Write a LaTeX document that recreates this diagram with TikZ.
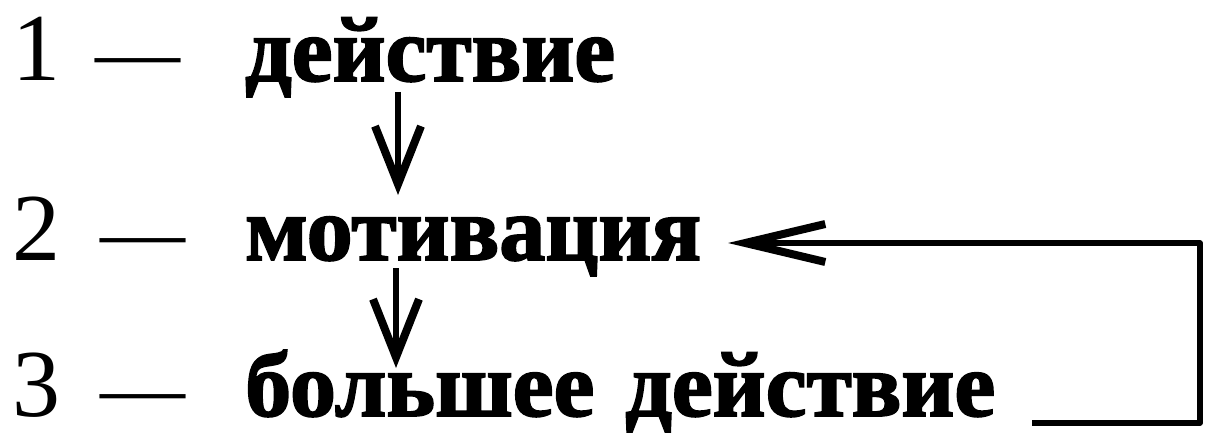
\documentclass[tikz,border=0pt]{standalone}
\usepackage{fontspec}
\setmainfont[BoldFeatures={FakeBold=2}]{Liberation Serif}
\usetikzlibrary{arrows.meta}
\begin{document}
\begin{tikzpicture}[x=1pt,y=-1pt,
  word/.style={font=\fontsize{92}{100}\selectfont\bfseries, inner sep=0pt, anchor=base west},
  num/.style={font=\fontsize{96}{100}\selectfont, inner sep=0pt, anchor=base west},
  dashtext/.style={font=\fontsize{85}{100}\selectfont, inner sep=0pt, anchor=base west},
  arr/.style={line width=6pt, -{Straight Barb[length=58pt,width=46pt,line width=8pt]}},
  fb/.style={line width=5.5pt, line join=round, -{Straight Barb[length=80pt,width=38pt,line width=8pt]}}]
\useasboundingbox (0,0) rectangle (1224,444);
% row 1
\node[num] (n1) at (12,81) {1};
\node[dashtext] (d1) at (95,81) {—};
\node[word] (t1) at (245,81) {действие};
% row 2
\node[num] (n2) at (12,260) {2};
\node[dashtext] (d2) at (100,260) {—};
\node[word] (t2) at (245,260) {мотивация};
% row 3
\node[num] (n3) at (12,416) {3};
\node[dashtext] (d3) at (100,416) {—};
\node[word] (t3) at (245,416) {большее\hspace{8pt} действие};
% vertical arrows
\coordinate (a1s) at (398,92);
\coordinate (a1e) at (398,195);
\coordinate (a2s) at (396,268);
\coordinate (a2e) at (396,368);
\draw[arr] (a1s) -- (a1e);
\draw[arr] (a2s) -- (a2e);
% feedback
\coordinate (fbs) at (1032,423);
\coordinate (fbc) at (1200,243);
\coordinate (fbe) at (728,243);
\draw[fb] (fbs) -| (fbc) -- (fbe);
\end{tikzpicture}
\end{document}
